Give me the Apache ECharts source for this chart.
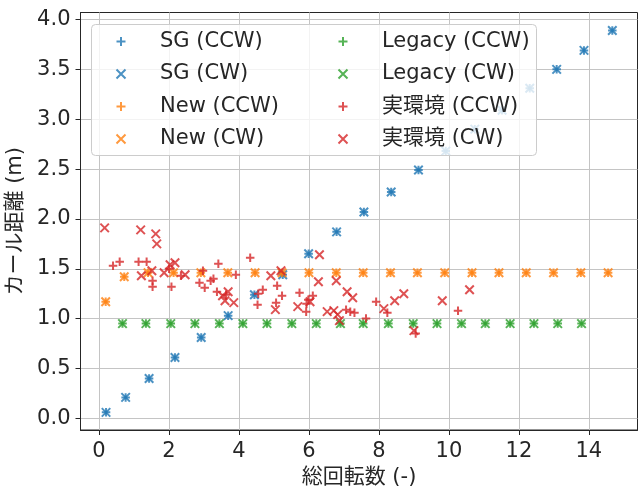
<!DOCTYPE html>
<html><head><meta charset="utf-8">
<script src="https://cdn.jsdelivr.net/npm/echarts@6/dist/echarts.min.js"></script>
<style>html,body{margin:0;padding:0;background:#fff}#c{width:638px;height:491px}</style>
</head><body><div id="c"></div>
<script>
// ---- data ----
const sgX = [0.20,0.76,1.43,2.17,2.92,3.69,4.44,5.25,5.99,6.79,7.57,8.35,9.13,9.91,10.74,11.52,12.31,13.08,13.86,14.67];
const sgY = [0.06,0.21,0.40,0.61,0.81,1.03,1.24,1.44,1.65,1.87,2.07,2.27,2.49,2.68,2.90,3.09,3.31,3.50,3.69,3.89];
const newX = [0.19,0.72,1.40,2.13,2.91,3.68,4.46,5.23,6.00,6.78,7.55,8.33,9.10,9.88,10.66,11.43,12.21,12.99,13.77,14.55];
const newY = [1.17,1.42,1.46,1.46,1.46,1.46,1.46,1.46,1.46,1.46,1.46,1.46,1.46,1.46,1.46,1.46,1.46,1.46,1.46,1.46];
const legX = [0.67,1.34,2.05,2.74,3.44,4.11,4.80,5.51,6.21,6.90,7.55,8.27,8.98,9.66,10.36,11.04,11.75,12.43,13.11,13.79];
const legY = [0.95,0.95,0.95,0.95,0.95,0.95,0.95,0.95,0.95,0.95,0.95,0.95,0.95,0.95,0.95,0.95,0.95,0.95,0.95,0.95];
const realCcwX = [0.40,0.59,1.13,1.36,1.53,1.53,2.00,2.07,2.34,2.97,2.87,3.02,3.19,3.27,3.41,3.37,3.63,3.91,4.32,4.55,4.68,4.53,5.09,5.23,5.06,5.73,5.93,5.98,5.92,6.11,7.06,7.18,7.30,7.63,7.92,8.24,9.05,10.26];
const realCcwY = [1.53,1.57,1.57,1.57,1.38,1.32,1.50,1.32,1.43,1.48,1.36,1.31,1.38,1.40,1.55,1.27,1.24,1.44,1.61,1.25,1.29,1.14,1.33,1.23,1.16,1.26,1.15,1.19,1.07,1.23,1.09,1.07,1.06,1.00,1.17,1.06,0.85,1.08];
const realCwX = [0.16,1.19,1.62,1.65,1.21,1.51,1.86,2.03,2.17,2.46,3.53,3.69,3.60,3.85,4.91,5.20,5.04,5.68,6.03,6.30,6.27,6.78,7.09,7.25,6.52,6.71,6.82,6.87,8.14,8.45,8.71,9.00,9.81,10.59];
const realCwY = [1.91,1.89,1.85,1.75,1.43,1.48,1.46,1.54,1.56,1.44,1.23,1.27,1.18,1.16,1.43,1.48,1.09,1.12,1.17,1.64,1.37,1.38,1.27,1.21,1.07,1.08,1.04,0.98,1.10,1.18,1.25,0.88,1.18,1.29];
const xTicks = [0,2,4,6,8,10,12,14];
const yTicks = [0,0.5,1.0,1.5,2.0,2.5,3.0,3.5,4.0];
const xName = '総回転数 (-)';
const yName = 'カール距離 (m)';
const names = ['SG (CCW)','SG (CW)','New (CCW)','New (CW)','Legacy (CCW)','Legacy (CW)','実環境 (CCW)','実環境 (CW)'];
// ---- styles ----
const C = {blue:'#1f77b4', orange:'#ff7f0e', green:'#2ca02c', red:'#d62728'};
const PLUS = 'path://M0,-1L0,1M-1,0L1,0';
const CROSS = 'path://M-1,-1L1,1M-1,1L1,-1';
const FONT = '"DejaVu Sans","Noto Sans CJK JP",sans-serif';
const FS = 21;
const zip = (xs, ys) => xs.map((x, i) => [x, ys[i]]);
const defs = [
  [names[0], sgX, sgY, C.blue, PLUS],
  [names[1], sgX, sgY, C.blue, CROSS],
  [names[2], newX, newY, C.orange, PLUS],
  [names[3], newX, newY, C.orange, CROSS],
  [names[4], legX, legY, C.green, PLUS],
  [names[5], legX, legY, C.green, CROSS],
  [names[6], realCcwX, realCcwY, C.red, PLUS],
  [names[7], realCwX, realCwY, C.red, CROSS]
];
const series = defs.map(d => ({
  name: d[0], type: 'scatter', data: zip(d[1], d[2]), symbol: d[4], symbolSize: 8.5,
  itemStyle: {color: d[3], borderColor: d[3], borderWidth: 2},
  emphasis: {disabled: true}, animation: false, z: 2
}));
const legendData = defs.map(d => ({name: d[0], icon: d[4], itemStyle: {color: d[3], borderColor: d[3], borderWidth: 2}}));
const legendCommon = {
  orient: 'vertical', itemWidth: 9, itemHeight: 9, itemGap: 11.5, padding: 0, z: 5,
  selectedMode: false,
  textStyle: {fontFamily: FONT, fontSize: FS, color: '#262626', lineHeight: 20, padding: [0,0,0,29.5]}
};
const chart = echarts.init(document.getElementById('c'), null, {renderer: 'canvas'});
chart.setOption({
  animation: false,
  backgroundColor: '#fff',
  grid: {left: 80.5, right: 0.5, top: 12.5, bottom: 61, show: true, borderColor: '#262626', borderWidth: 1,
         backgroundColor: 'transparent', containLabel: false, outerBoundsMode: 'none'},
  xAxis: {
    type: 'value', min: -0.53, max: 15.39,
    name: xName, nameLocation: 'middle', nameGap: 36,
    nameTextStyle: {fontFamily: FONT, fontSize: FS, color: '#262626'},
    axisLine: {show: true, onZero: false, lineStyle: {color: '#262626', width: 1}},
    axisTick: {show: true, inside: false, length: 5, lineStyle: {color: '#262626'}, customValues: xTicks},
    axisLabel: {fontFamily: FONT, fontSize: FS, color: '#262626', margin: 11, customValues: xTicks, formatter: v => String(v)},
    splitLine: {show: true, lineStyle: {color: '#c4c4c4', width: 1}}
  },
  yAxis: {
    type: 'value', min: -0.117, max: 4.07,
    name: yName, nameLocation: 'middle', nameGap: 48, nameRotate: 90,
    nameTextStyle: {fontFamily: FONT, fontSize: FS, color: '#262626'},
    axisLine: {show: true, onZero: false, lineStyle: {color: '#262626', width: 1}},
    axisTick: {show: true, inside: false, length: 5, lineStyle: {color: '#262626'}, customValues: yTicks},
    axisLabel: {fontFamily: FONT, fontSize: FS, color: '#262626', margin: 10, customValues: yTicks, formatter: v => v.toFixed(1)},
    splitLine: {show: true, lineStyle: {color: '#c4c4c4', width: 1}}
  },
  legend: [
    Object.assign({left: 115.5, top: 31, data: legendData.slice(0, 4)}, legendCommon),
    Object.assign({left: 337.5, top: 31, data: legendData.slice(4, 8)}, legendCommon)
  ],
  graphic: {elements: [{
    type: 'rect', z: 3, silent: true,
    shape: {x: 91.5, y: 24.5, width: 445, height: 131, r: 4},
    style: {fill: 'rgba(255,255,255,0.8)', stroke: '#cccccc', lineWidth: 1}
  }]},
  series: series
});
</script></body></html>
